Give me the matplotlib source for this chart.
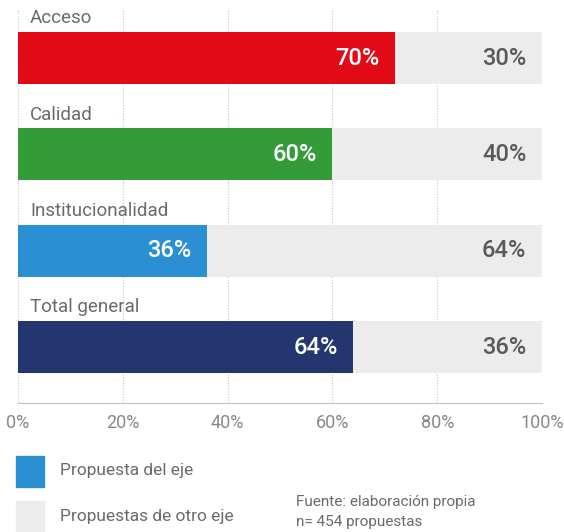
import matplotlib.pyplot as plt
from matplotlib.patches import Rectangle

# data
categories = ["Acceso", "Calidad", "Institucionalidad", "Total general"]
eje_values = [72, 60, 36, 64]          # bar lengths as drawn
eje_labels = ["70%", "60%", "36%", "64%"]
otro_labels = ["30%", "40%", "64%", "36%"]
colors = ["#e20a16", "#349b39", "#2b8fd4", "#233670"]
ticks = [0, 20, 40, 60, 80, 100]
tick_labels = ["0%", "20%", "40%", "60%", "80%", "100%"]
legend_labels = ["Propuesta del eje", "Propuestas de otro eje"]
source = ["Fuente: elaboración propia", "n= 454 propuestas"]

plt.rcParams['font.family'] = ['Roboto', 'DejaVu Sans']
gray_bar = "#ececec"
txt = "#6a6a6a"

W, H = 564, 532
fig = plt.figure(figsize=(W / 100, H / 100), dpi=100)
ax = fig.add_axes([18 / W, 1 - 403 / H, 524 / W, 393 / H])

ypos = range(len(categories))
ax.barh(ypos, [100] * len(categories), height=0.54, color=gray_bar, zorder=2)
ax.barh(ypos, eje_values, height=0.54, color=colors, zorder=3)

for i, cat in enumerate(categories):
    ax.text(2.3, i - 0.415, cat, va='center', ha='left', fontsize=13.5,
            color=txt)
    ax.text(eje_values[i] - 3, i, eje_labels[i], va='center', ha='right',
            fontsize=17, color='white', fontweight='medium', zorder=4)
    ax.text(97, i, otro_labels[i], va='center', ha='right',
            fontsize=17, color='#5a5a5a', fontweight='medium', zorder=4)

ax.set_xlim(0, 100)
ax.set_ylim(3.58, -0.5)
ax.set_xticks(ticks)
ax.set_xticklabels(tick_labels, fontsize=13, color='#888888')
ax.set_yticks([])
ax.tick_params(axis='x', length=0, pad=8)
for s in ['top', 'right', 'left']:
    ax.spines[s].set_visible(False)
ax.spines['bottom'].set_color('#c4c4c4')
ax.grid(axis='x', linestyle=(0, (1, 1.5)), color='#c4c4c4', linewidth=0.8, zorder=1)
ax.set_axisbelow(True)

# legend
fig.patches.append(Rectangle((16 / W, 1 - 487 / H), 28 / W, 31 / H,
                             transform=fig.transFigure, color="#2b8fd4"))
fig.patches.append(Rectangle((16 / W, 1 - 534 / H), 28 / W, 33 / H,
                             transform=fig.transFigure, color=gray_bar))
fig.text(60 / W, 1 - 471 / H, legend_labels[0], va='center', ha='left',
         fontsize=12.5, color=txt)
fig.text(60 / W, 1 - 517 / H, legend_labels[1], va='center', ha='left',
         fontsize=12.5, color=txt)
fig.text(296 / W, 1 - 502 / H, source[0], va='center', ha='left',
         fontsize=11, color=txt)
fig.text(296 / W, 1 - 522 / H, source[1], va='center', ha='left',
         fontsize=11, color=txt)

fig.savefig("out.png", dpi=100)
